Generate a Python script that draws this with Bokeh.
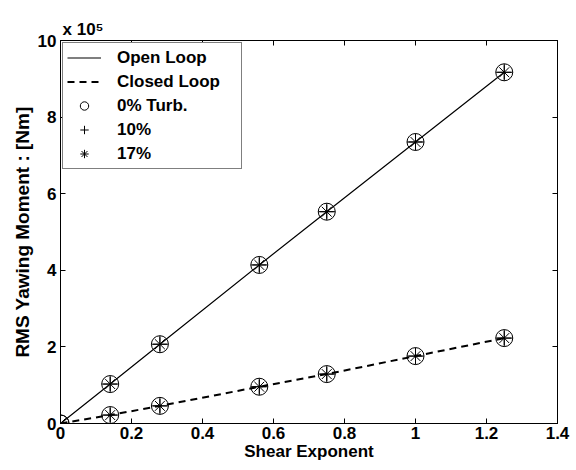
from bokeh.plotting import figure
from bokeh.models import (Range1d, LinearAxis, Legend, LegendItem, FixedTicker,
                          CustomLabelingPolicy)
from bokeh.embed import file_html
from bokeh.resources import INLINE

# Data (values in units of 1e5 Nm)
shear = [0, 0.14, 0.28, 0.56, 0.75, 1.0, 1.25]
open_loop = [0, 1.03, 2.07, 4.14, 5.53, 7.35, 9.17]
closed_loop = [0, 0.22, 0.46, 0.96, 1.29, 1.76, 2.23]
x_ticks = [0, 0.2, 0.4, 0.6, 0.8, 1.0, 1.2, 1.4]
x_tick_labels = ["0", "0.2", "0.4", "0.6", "0.8", "1", "1.2", "1.4"]
y_ticks = [0, 2, 4, 6, 8, 10]

FONT = "Liberation Sans"
FS = "17px"

p = figure(width=576, height=470, output_backend="svg", toolbar_location=None,
           x_range=Range1d(0, 1.4), y_range=Range1d(0, 10),
           min_border_left=60, min_border_right=19, min_border_top=40, min_border_bottom=47)
p.grid.visible = False
p.outline_line_color = "black"
p.outline_line_width = 1
p.background_fill_color = "white"
p.border_fill_color = "white"

for ax in [p.xaxis[0], p.yaxis[0]]:
    ax.major_tick_in = 5
    ax.major_tick_out = 0
    ax.minor_tick_line_color = None
    ax.axis_line_color = "black"
    ax.major_label_text_font = FONT
    ax.major_label_text_font_style = "bold"
    ax.major_label_text_font_size = FS
    ax.major_label_text_color = "black"
    ax.axis_label_text_font = FONT
    ax.axis_label_text_font_style = "bold"
    ax.axis_label_text_font_size = FS
    ax.axis_label_text_color = "black"

p.xaxis.ticker = FixedTicker(ticks=x_ticks)
p.xaxis.major_label_overrides = {t: l for t, l in zip(x_ticks, x_tick_labels)}
p.yaxis.ticker = FixedTicker(ticks=y_ticks)
p.xaxis.axis_label = "Shear Exponent"
p.yaxis.axis_label = "RMS Yawing Moment : [Nm]"
p.yaxis.axis_label_text_font_size = "19px"
p.xaxis.major_label_standoff = 3
p.xaxis.axis_label_standoff = 0
p.yaxis.major_label_standoff = 4
p.yaxis.axis_label_standoff = 2

# exponent note above the plot
p.title.text = "x 10\u2075"
p.title.align = "left"
p.title.offset = 2
p.title.standoff = 4
p.title.text_font = FONT
p.title.text_font_style = "bold"
p.title.text_font_size = FS
p.title.text_color = "black"

# box ticks on top and right (no labels)
no_labels = "return new Set()"
top = LinearAxis(ticker=FixedTicker(ticks=x_ticks), major_tick_in=5, major_tick_out=0,
                 minor_tick_line_color=None, major_label_standoff=0, axis_label_standoff=0,
                 major_label_text_font_size="0px",
                 major_label_policy=CustomLabelingPolicy(code=no_labels))
right = LinearAxis(ticker=FixedTicker(ticks=y_ticks), major_tick_in=5, major_tick_out=0,
                   minor_tick_line_color=None, major_label_standoff=0, axis_label_standoff=0,
                   major_label_text_font_size="0px",
                   major_label_policy=CustomLabelingPolicy(code=no_labels))
p.add_layout(top, "above")
p.add_layout(right, "right")

l_open = p.line(shear, open_loop, line_color="black", line_width=1.2)
l_closed = p.line(shear, closed_loop, line_color="black", line_width=2, line_dash="7 5")

ms = 17
items_m = []
for ys in [open_loop, closed_loop]:
    c = p.scatter(shear, ys, marker="circle", size=ms, fill_color=None, line_color="black", line_width=1)
    cr = p.scatter(shear, ys, marker="cross", size=ms, line_color="black", line_width=1)
    a = p.scatter(shear, ys, marker="asterisk", size=ms - 3, line_color="black", line_width=1)
    items_m.append((c, cr, a))

legend = Legend(items=[
    LegendItem(label="Open Loop", renderers=[l_open]),
    LegendItem(label="Closed Loop", renderers=[l_closed]),
    LegendItem(label="0% Turb.", renderers=[items_m[0][0]]),
    LegendItem(label="10%", renderers=[items_m[0][1]]),
    LegendItem(label="17%", renderers=[items_m[0][2]]),
])
legend.location = "top_left"
legend.margin = 2
legend.padding = 4
legend.spacing = 3
legend.glyph_width = 34
legend.glyph_height = 21
legend.label_height = 21
legend.label_standoff = 16
legend.label_width = 120
legend.label_text_font = FONT
legend.label_text_font_style = "bold"
legend.label_text_font_size = FS
legend.label_text_color = "black"
legend.border_line_color = "black"
legend.border_line_width = 1
legend.background_fill_alpha = 1
p.add_layout(legend, "center")

open("out.html", "w").write(file_html(p, INLINE))
